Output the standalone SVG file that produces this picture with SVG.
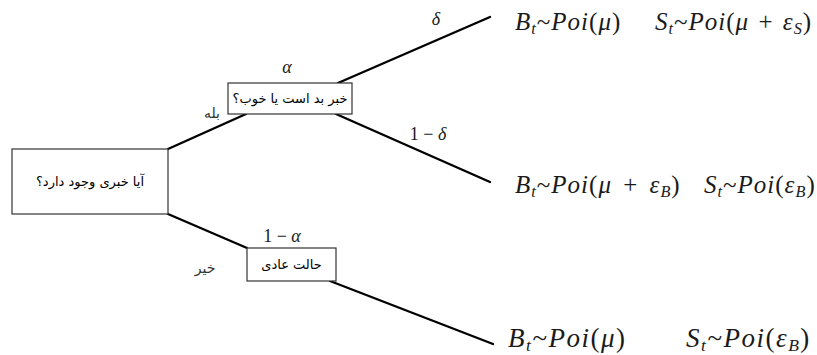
<svg xmlns="http://www.w3.org/2000/svg" width="817" height="355" viewBox="0 0 817 355">
<style>
.box{fill:#fff;stroke:#333;stroke-width:1.2}
.edge{stroke:#000;stroke-width:2.4;fill:none;stroke-linecap:round}
.fa{font-family:"DejaVu Sans","Noto Sans",sans-serif;font-size:13px;fill:#000}
.fa-plain{font-family:"DejaVu Sans","Noto Sans",sans-serif;font-size:14px;fill:#333}
.m{font-family:"Liberation Serif","DejaVu Serif",serif;font-style:italic;font-size:25px;letter-spacing:1px;fill:#1a1a1a}
.m3{font-size:27px;letter-spacing:1.5px}
.ml{font-family:"Liberation Serif","DejaVu Serif",serif;font-size:18px;fill:#1a1a1a}
.mi{font-style:italic}
.n{font-style:normal}
.sub{font-size:0.65em}
</style>
<rect width="817" height="355" fill="#fff"/>
<g id="connectors">
<line class="edge" x1="168" y1="149" x2="246" y2="114"/>
<line class="edge" x1="338" y1="83" x2="490" y2="17"/>
<line class="edge" x1="336" y1="114" x2="490" y2="182"/>
<line class="edge" x1="168" y1="214" x2="247" y2="248"/>
<line class="edge" x1="330" y1="281" x2="493" y2="344"/>
</g>
<g id="root">
<rect class="box" x="12" y="149" width="156" height="65"/>
<text class="fa" x="90" y="186" text-anchor="middle" direction="rtl">آیا خبری وجود دارد؟</text>
</g>
<g id="news-type">
<rect class="box" x="228" y="83" width="124" height="31"/>
<text class="fa" x="290" y="103" text-anchor="middle" direction="rtl">خبر بد است یا خوب؟</text>
</g>
<g id="normal">
<rect class="box" x="247" y="248" width="89" height="33"/>
<text class="fa" x="291.500" y="269" text-anchor="middle" direction="rtl">حالت عادی</text>
</g>
<g id="labels">
<text class="fa-plain" x="212" y="118" text-anchor="middle" direction="rtl">بله</text>
<text class="fa-plain" x="205" y="273" text-anchor="middle" direction="rtl">خیر</text>
<text class="ml" x="287" y="73" text-anchor="middle"><tspan class="mi">α</tspan></text>
<text class="ml" x="436" y="25" text-anchor="middle"><tspan class="mi">δ</tspan></text>
<text class="ml" x="428" y="140" text-anchor="middle">1 − <tspan class="mi">δ</tspan></text>
<text class="ml" x="282" y="242" text-anchor="middle">1 − <tspan class="mi">α</tspan></text>
</g>
<g id="outcome-1">
<text class="m" x="515" y="30">B<tspan class="sub" dy="4">t</tspan><tspan dy="-4" class="n">~</tspan>Poi<tspan class="n">(</tspan>μ<tspan class="n">)</tspan></text>
<text class="m" x="655" y="30">S<tspan class="sub" dy="4">t</tspan><tspan dy="-4" class="n">~</tspan>Poi<tspan class="n">(</tspan>μ<tspan class="n" dx="2"> + </tspan><tspan dx="2">ε</tspan><tspan class="sub" dy="4">S</tspan><tspan dy="-4" class="n">)</tspan></text>
</g>
<g id="outcome-2">
<text class="m" x="515" y="193">B<tspan class="sub" dy="4">t</tspan><tspan dy="-4" class="n">~</tspan>Poi<tspan class="n">(</tspan>μ<tspan class="n" dx="4"> + </tspan><tspan dx="4">ε</tspan><tspan class="sub" dy="4">B</tspan><tspan dy="-4" class="n">)</tspan></text>
<text class="m" x="704" y="193">S<tspan class="sub" dy="4">t</tspan><tspan dy="-4" class="n">~</tspan>Poi<tspan class="n">(</tspan>ε<tspan class="sub" dy="4">B</tspan><tspan dy="-4" class="n">)</tspan></text>
</g>
<g id="outcome-3">
<text class="m m3" x="508" y="347">B<tspan class="sub" dy="4">t</tspan><tspan dy="-4" class="n">~</tspan>Poi<tspan class="n">(</tspan>μ<tspan class="n">)</tspan></text>
<text class="m m3" x="686" y="347">S<tspan class="sub" dy="4">t</tspan><tspan dy="-4" class="n">~</tspan>Poi<tspan class="n">(</tspan>ε<tspan class="sub" dy="4">B</tspan><tspan dy="-4" class="n">)</tspan></text>
</g>
</svg>
